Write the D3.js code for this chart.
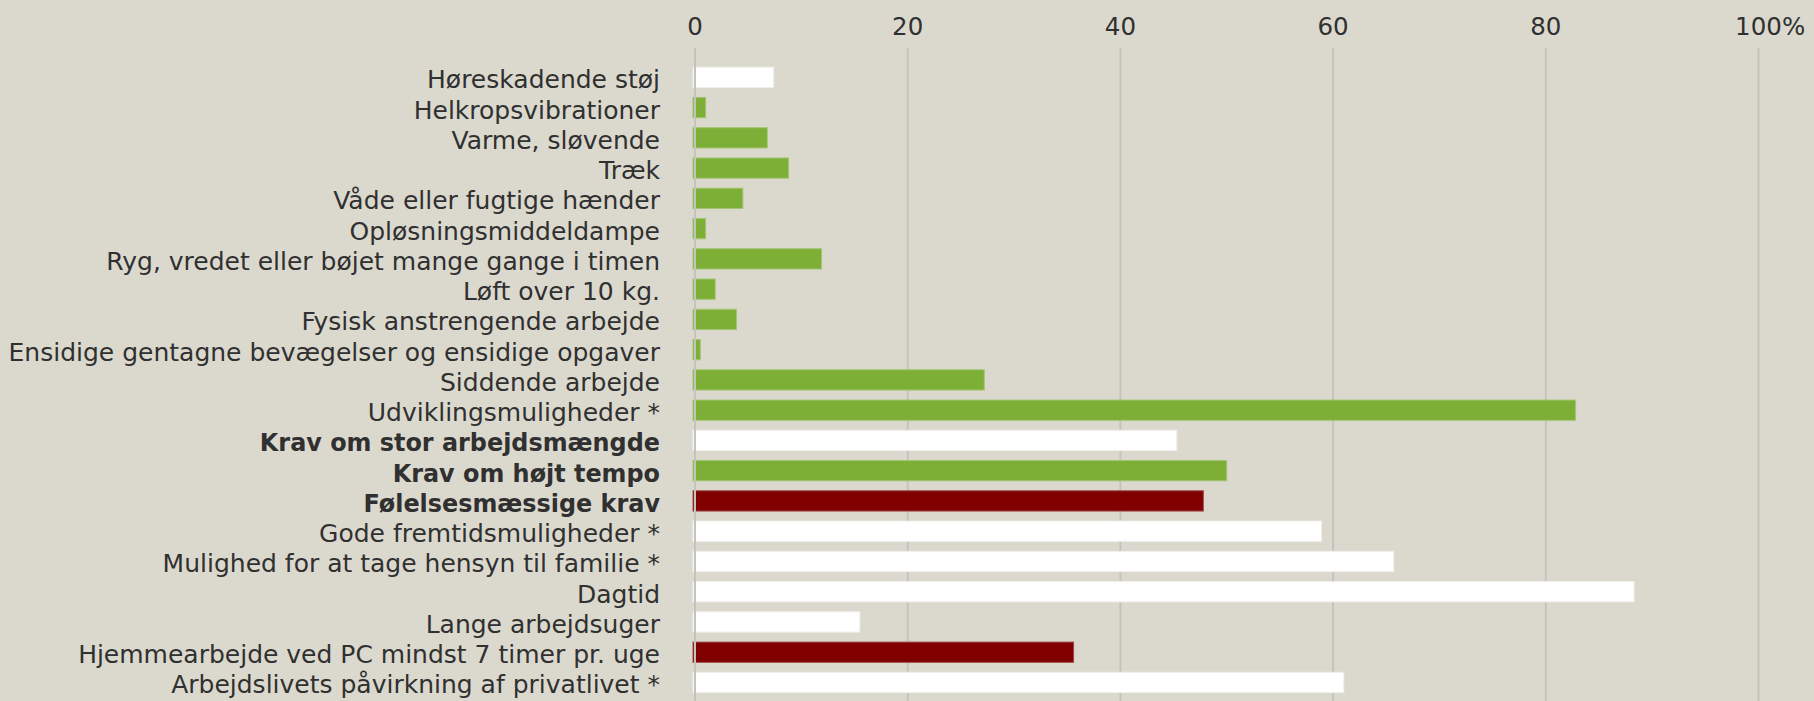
<!DOCTYPE html>
<html>
<head>
<meta charset="utf-8">
<script src="https://cdn.jsdelivr.net/npm/d3@7"></script>
<style>
  html, body { margin: 0; padding: 0; background: #dbd9ce; }
  svg { display: block; }
</style>
</head>
<body>
<svg id="chart" width="1814" height="701"></svg>
<script>
const categories = [
  "Høreskadende støj",
  "Helkropsvibrationer",
  "Varme, sløvende",
  "Træk",
  "Våde eller fugtige hænder",
  "Opløsningsmiddeldampe",
  "Ryg, vredet eller bøjet mange gange i timen",
  "Løft over 10 kg.",
  "Fysisk anstrengende arbejde",
  "Ensidige gentagne bevægelser og ensidige opgaver",
  "Siddende arbejde",
  "Udviklingsmuligheder *",
  "Krav om stor arbejdsmængde",
  "Krav om højt tempo",
  "Følelsesmæssige krav",
  "Gode fremtidsmuligheder *",
  "Mulighed for at tage hensyn til familie *",
  "Dagtid",
  "Lange arbejdsuger",
  "Hjemmearbejde ved PC mindst 7 timer pr. uge",
  "Arbejdslivets påvirkning af privatlivet *"
];
const values = [7.4, 1.0, 6.8, 8.8, 4.5, 1.0, 11.9, 1.9, 3.9, 0.5, 27.2, 82.8, 45.3, 50.0, 47.8, 58.9, 65.7, 88.3, 15.5, 35.6, 61.0];
// status: n = neutral (white), g = better (green), r = worse (dark red)
const status = ["n","g","g","g","g","g","g","g","g","g","g","g","n","g","r","n","n","n","n","r","n"];
const boldLabels = ["Krav om stor arbejdsmængde", "Krav om højt tempo", "Følelsesmæssige krav"];
const tickValues = [0, 20, 40, 60, 80, 100];

const fill = { n: "#ffffff", g: "#7daf37", r: "#800000" };
const edge = { n: "#eeeeea", g: "#a3c672", r: "#a24a4a" };

const svg = d3.select("#chart");
const FONT = "'DejaVu Sans', sans-serif";
const TEXT = "#303030";

const x = d3.scaleLinear().domain([0, 100]).range([695, 1758.5]);
const y = d3.scaleBand().domain(categories).range([62.2, 697.6]).paddingInner(0.33).paddingOuter(0.165);

// gridlines (behind bars, except the zero line)
svg.append("g").selectAll("line")
  .data(tickValues.filter(d => d !== 0))
  .join("line")
  .attr("x1", d => x(d)).attr("x2", d => x(d))
  .attr("y1", 48).attr("y2", 701)
  .attr("stroke", "#c3c3c0").attr("stroke-width", 2);

// bars
svg.append("g").selectAll("rect")
  .data(categories)
  .join("rect")
  .attr("x", x(0) - 2)
  .attr("y", d => y(d))
  .attr("width", (d, i) => x(values[i]) - x(0) + 2)
  .attr("height", y.bandwidth())
  .attr("fill", (d, i) => fill[status[i]])
  .attr("stroke", (d, i) => edge[status[i]])
  .attr("stroke-width", 1);

// zero line on top
svg.append("line")
  .attr("x1", x(0)).attr("x2", x(0))
  .attr("y1", 48).attr("y2", 701)
  .attr("stroke", "#c3c3c0").attr("stroke-width", 2);

// category labels
svg.append("g").selectAll("text")
  .data(categories)
  .join("text")
  .attr("x", 660)
  .attr("y", d => y(d) + y.bandwidth() / 2 + 11)
  .attr("text-anchor", "end")
  .attr("font-family", FONT)
  .attr("font-size", d => boldLabels.includes(d) ? 23.9 : 25)
  .attr("font-weight", d => boldLabels.includes(d) ? "bold" : "normal")
  .attr("fill", TEXT)
  .text(d => d);

// top axis tick labels
const tickG = svg.append("g");
tickG.selectAll("text")
  .data(tickValues)
  .join("text")
  .attr("x", d => x(d))
  .attr("y", 35)
  .attr("text-anchor", "middle")
  .attr("font-family", FONT)
  .attr("font-size", 24.5)
  .attr("fill", TEXT)
  .text(d => d);

// percent sign after the last tick label
const lastLabel = tickG.selectAll("text").filter(d => d === 100).node();
const w = lastLabel.getComputedTextLength();
tickG.append("text")
  .attr("x", x(100) + w / 2)
  .attr("y", 35)
  .attr("font-family", FONT)
  .attr("font-size", 24.5)
  .attr("fill", TEXT)
  .text("%");
</script>
</body>
</html>
